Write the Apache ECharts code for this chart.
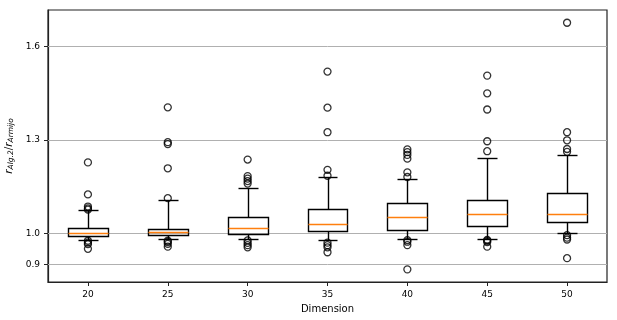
<!DOCTYPE html>
<html>
<head>
<meta charset="utf-8">
<script src="https://cdn.jsdelivr.net/npm/echarts@6/dist/echarts.min.js"></script>
<style>html,body{margin:0;padding:0;background:#fff;}#c{width:617px;height:320px;}</style>
</head>
<body>
<div id="c"></div>
<script>
const categories = ['20','25','30','35','40','45','50'];
const whiskerLow  = [0.978, 0.981, 0.981, 0.977, 0.981, 0.981, 1.000];
const q1          = [0.990, 0.994, 0.998, 1.006, 1.012, 1.023, 1.035];
const median      = [1.000, 1.004, 1.016, 1.029, 1.051, 1.062, 1.062];
const q3          = [1.016, 1.015, 1.051, 1.077, 1.096, 1.106, 1.129];
const whiskerHigh = [1.074, 1.108, 1.146, 1.180, 1.174, 1.241, 1.251];
const outliers = [
  [1.228, 1.125, 1.086, 1.080, 1.076, 0.976, 0.970, 0.965, 0.950],
  [1.405, 1.293, 1.287, 1.209, 1.113, 0.976, 0.972, 0.966, 0.957],
  [1.237, 1.184, 1.176, 1.168, 1.160, 0.977, 0.969, 0.962, 0.955],
  [1.520, 1.404, 1.325, 1.204, 1.185, 0.970, 0.962, 0.955, 0.939],
  [1.270, 1.261, 1.252, 1.240, 1.196, 1.181, 0.978, 0.973, 0.962, 0.884],
  [1.507, 1.450, 1.398, 1.296, 1.264, 0.979, 0.976, 0.972, 0.957],
  [1.677, 1.325, 1.299, 1.271, 1.262, 0.994, 0.986, 0.980, 0.920]
];
const yTicks = [0.9, 1.0, 1.3, 1.6];

const boxData = categories.map((c, i) => [i, whiskerLow[i], q1[i], median[i], q3[i], whiskerHigh[i]]);
const outlierData = [];
outliers.forEach((arr, i) => arr.forEach(v => outlierData.push([i, v])));

const FONT = 'DejaVu Sans';
const LW = 1.4;
const px = v => Math.round(v) + 0.5;

function renderBox(params, api) {
  const i = api.value(0);
  const band = api.size([1, 0])[0];
  const halfW = band * 0.25;
  const capW = halfW / 2;
  const cx = api.coord([i, 0])[0];
  const yLo = px(api.coord([i, api.value(1)])[1]);
  const yQ1 = px(api.coord([i, api.value(2)])[1]);
  const yMed = px(api.coord([i, api.value(3)])[1]);
  const yQ3 = px(api.coord([i, api.value(4)])[1]);
  const yHi = px(api.coord([i, api.value(5)])[1]);
  const xc = px(cx);
  const xl = px(cx - halfW), xr = px(cx + halfW);
  const black = {stroke: '#000', lineWidth: LW, fill: null};
  return {
    type: 'group',
    children: [
      {type: 'line', shape: {x1: xc, y1: yQ1, x2: xc, y2: yLo}, style: black},
      {type: 'line', shape: {x1: xc, y1: yQ3, x2: xc, y2: yHi}, style: black},
      {type: 'line', shape: {x1: px(cx - capW), y1: yLo, x2: px(cx + capW), y2: yLo}, style: black},
      {type: 'line', shape: {x1: px(cx - capW), y1: yHi, x2: px(cx + capW), y2: yHi}, style: black},
      {type: 'rect', shape: {x: xl, y: yQ3, width: xr - xl, height: yQ1 - yQ3}, style: {stroke: '#000', lineWidth: LW, fill: 'none'}},
      {type: 'line', shape: {x1: xl, y1: yMed, x2: xr, y2: yMed}, style: {stroke: '#ff7f0e', lineWidth: LW}}
    ]
  };
}

const chart = echarts.init(document.getElementById('c'), null, {renderer: 'canvas'});
chart.setOption({
  animation: false,
  backgroundColor: '#fff',
  grid: {left: 48, right: 10, top: 10, bottom: 38, outerBoundsMode: 'none', containLabel: false, show: true, borderColor: '#222', borderWidth: 1.2, backgroundColor: 'transparent'},
  xAxis: {
    type: 'category',
    data: categories,
    boundaryGap: true,
    name: 'Dimension',
    nameLocation: 'middle',
    nameGap: 22,
    nameTextStyle: {fontFamily: FONT, fontSize: 10, color: '#000'},
    axisLine: {show: true, lineStyle: {color: '#222', width: 1.2}},
    axisTick: {show: true, alignWithLabel: true, length: 4, lineStyle: {color: '#222'}},
    axisLabel: {fontFamily: FONT, fontSize: 9, color: '#000', margin: 8},
    splitLine: {show: false}
  },
  yAxis: {
    type: 'value',
    min: 0.8434,
    max: 1.718,
    name: '{i|r}{s|Alg.2}{n|/}{i|r}{s|Armijo}',
    nameLocation: 'middle',
    nameRotate: 90,
    nameGap: 26,
    nameTextStyle: {
      fontFamily: FONT, fontSize: 10.5, color: '#000',
      rich: {
        i: {fontFamily: FONT, fontSize: 10.5, fontStyle: 'italic', color: '#000'},
        n: {fontFamily: FONT, fontSize: 10.5, color: '#000'},
        s: {fontFamily: FONT, fontSize: 7.5, fontStyle: 'italic', color: '#000', verticalAlign: 'bottom', padding: [4, 0, 0, 0]}
      }
    },
    axisLine: {show: true, lineStyle: {color: '#222', width: 1.2}},
    axisTick: {show: true, length: 4, lineStyle: {color: '#222'}, customValues: yTicks},
    axisLabel: {fontFamily: FONT, fontSize: 9, color: '#000', margin: 8, customValues: yTicks, formatter: v => v.toFixed(1)},
    splitLine: {show: false}
  },
  series: [
    {
      type: 'line',
      data: [],
      z: 1,
      silent: true,
      markLine: {
        z: 1,
        silent: true,
        symbol: 'none',
        label: {show: false},
        lineStyle: {color: '#b0b0b0', width: 1, type: 'solid'},
        data: yTicks.map(v => ({yAxis: v}))
      }
    },
    {
      type: 'custom',
      renderItem: renderBox,
      data: boxData,
      encode: {x: 0, y: [1, 2, 3, 4, 5]},
      z: 3,
      silent: true
    },
    {
      type: 'scatter',
      data: outlierData,
      symbol: 'circle',
      symbolSize: 7,
      itemStyle: {color: 'rgba(0,0,0,0)', borderColor: '#000', borderWidth: 1.3},
      z: 4,
      silent: true
    }
  ]
});
</script>
</body>
</html>
